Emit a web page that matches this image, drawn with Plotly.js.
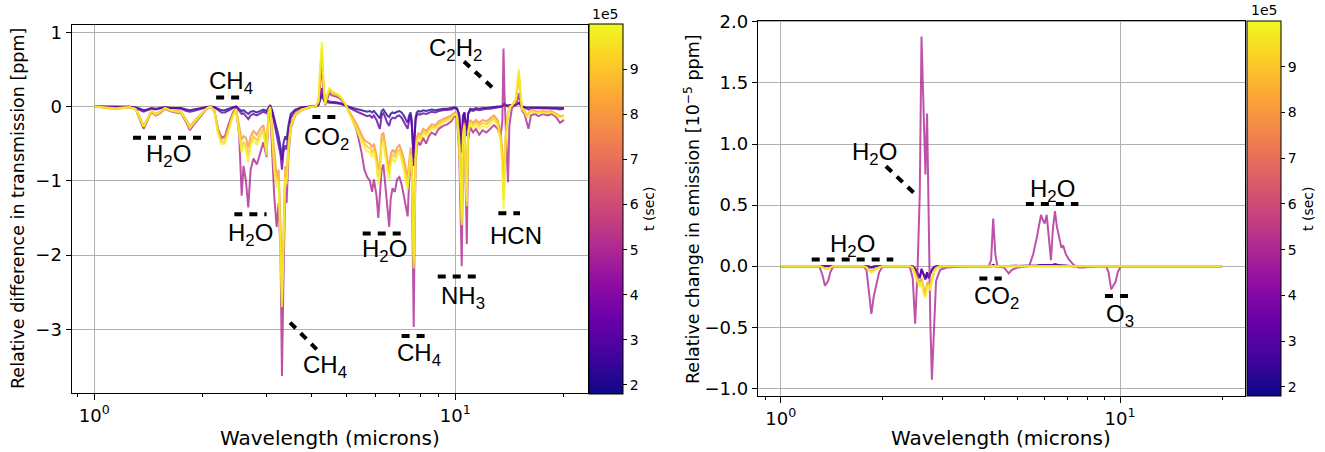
<!DOCTYPE html>
<html><head><meta charset="utf-8">
<script src="https://cdn.plot.ly/plotly-3.0.1.min.js"></script>
<style>html,body{margin:0;padding:0;background:#fff;} #chart{width:1325px;height:452px;}</style>
</head><body><div id="chart"></div>
<script>
// time (sec) of each curve, shared by both panels
const tValues = [2.2e5, 3.3e5, 5.0e5, 7.9e5, 8.9e5, 9.9e5];

// ---- left panel: transmission difference [ppm] ----
const wlTrans = [1.00,1.05,1.10,1.15,1.20,1.25,1.30,1.34,1.37,1.40,
 1.44,1.48,1.52,1.57,1.62,1.68,1.74,1.80,1.84,1.88,
 1.92,1.98,2.04,2.10,2.15,2.20,2.25,2.30,2.35,2.42,
 2.47,2.52,2.56,2.59,2.63,2.67,2.71,2.76,2.82,2.88,
 2.94,3.00,3.04,3.07,3.11,3.15,3.20,3.24,3.28,3.31,
 3.34,3.38,3.41,3.45,3.50,3.60,3.75,3.95,4.10,4.18,
 4.23,4.27,4.31,4.36,4.42,4.48,4.55,4.65,4.75,4.85,
 4.95,5.05,5.20,5.35,5.50,5.60,5.70,5.80,5.88,5.95,
 6.05,6.12,6.18,6.25,6.32,6.40,6.48,6.56,6.62,6.70,
 6.80,6.90,7.00,7.10,7.20,7.30,7.38,7.45,7.52,7.58,
 7.63,7.67,7.71,7.76,7.82,7.90,8.00,8.15,8.30,8.45,
 8.60,8.80,9.00,9.25,9.50,9.75,9.95,10.10,10.25,10.35,
 10.42,10.50,10.60,10.70,10.76,10.85,11.00,11.20,11.40,11.65,
 11.90,12.20,12.50,12.80,13.10,13.35,13.50,13.60,13.68,13.78,
 13.90,14.00,14.12,14.35,14.70,14.90,15.00,15.12,15.30,15.55,
 15.80,15.95,16.20,16.60,17.00,17.50,18.00,18.50,19.00,19.50,
 20.00];
const transDark = [0,0,0,-0.01,0,0,-0.01,-0.03,-0.05,-0.04,
 -0.02,-0.03,-0.02,-0.01,-0.02,-0.02,-0.02,-0.04,-0.05,-0.04,
 -0.03,-0.02,-0.01,0,-0.01,-0.03,-0.05,-0.05,-0.03,-0.01,
 0,-0.03,-0.06,-0.05,-0.08,-0.10,-0.07,-0.06,-0.08,-0.06,
 -0.04,-0.06,-0.01,0.02,-0.05,-0.15,-0.30,-0.40,-0.55,-0.72,
 -0.50,-0.40,-0.45,-0.25,-0.10,-0.04,-0.01,0,0,0.02,
 0.10,0.16,0.10,0.05,0.06,0.05,0.05,0.05,0.04,0.03,
 0.02,0.00,-0.02,-0.04,-0.05,-0.06,-0.07,-0.06,-0.08,-0.06,
 -0.10,-0.14,-0.16,-0.06,-0.04,-0.08,-0.12,-0.14,-0.10,-0.08,
 -0.09,-0.07,-0.06,-0.08,-0.12,-0.18,-0.22,-0.12,-0.08,-0.20,
 -0.55,-0.80,-0.45,-0.15,-0.08,-0.06,-0.07,-0.05,-0.06,-0.05,
 -0.04,-0.05,-0.04,-0.03,-0.03,-0.02,-0.01,-0.02,-0.10,-0.45,
 -0.62,-0.15,-0.08,-0.30,-0.40,-0.10,-0.03,-0.04,-0.02,-0.03,
 -0.02,-0.02,-0.01,-0.01,0.00,0.00,0.01,0.03,0.04,0.02,
 0.01,0.01,0.02,0.01,0.02,0.04,0.05,0.03,0.00,-0.01,
 -0.01,-0.02,-0.01,-0.01,-0.01,-0.01,-0.02,-0.01,-0.02,-0.02,
 -0.02];
const transPurple = [0,0,0,-0.01,-0.01,0,-0.02,-0.05,-0.07,-0.05,
 -0.03,-0.04,-0.03,-0.01,-0.02,-0.03,-0.03,-0.06,-0.07,-0.06,
 -0.05,-0.03,-0.01,0,-0.01,-0.05,-0.08,-0.08,-0.05,-0.02,
 0,-0.06,-0.10,-0.09,-0.13,-0.17,-0.12,-0.10,-0.12,-0.09,
 -0.07,-0.09,-0.02,0.01,-0.08,-0.22,-0.38,-0.48,-0.65,-0.85,
 -0.62,-0.52,-0.58,-0.35,-0.15,-0.06,-0.02,0,0,0.03,
 0.15,0.25,0.14,0.06,0.08,0.07,0.06,0.06,0.05,0.04,
 0.02,0.00,-0.04,-0.07,-0.10,-0.12,-0.13,-0.12,-0.15,-0.12,
 -0.18,-0.25,-0.30,-0.12,-0.09,-0.15,-0.22,-0.26,-0.18,-0.15,
 -0.16,-0.13,-0.12,-0.15,-0.20,-0.26,-0.30,-0.18,-0.12,-0.28,
 -0.45,-0.70,-0.40,-0.20,-0.12,-0.10,-0.11,-0.09,-0.10,-0.08,
 -0.07,-0.08,-0.06,-0.05,-0.05,-0.04,-0.02,-0.03,-0.12,-0.35,
 -0.50,-0.12,-0.08,-0.25,-0.32,-0.10,-0.05,-0.06,-0.04,-0.05,
 -0.04,-0.03,-0.03,-0.02,-0.01,-0.01,0.00,0.02,0.03,0.02,
 0.01,0.00,0.02,0.01,0.02,0.04,0.05,0.03,0.00,-0.01,
 -0.03,-0.04,-0.02,-0.02,-0.03,-0.02,-0.03,-0.02,-0.03,-0.04,
 -0.03];
const transPink = [0,-0.01,-0.02,-0.03,-0.02,-0.01,-0.03,-0.18,-0.30,-0.20,
 -0.07,-0.12,-0.09,-0.03,-0.06,-0.08,-0.09,-0.22,-0.32,-0.25,
 -0.20,-0.12,-0.04,0,-0.06,-0.30,-0.42,-0.40,-0.25,-0.08,
 -0.02,-0.40,-1.20,-0.80,-1.00,-1.36,-0.85,-0.70,-0.78,-0.62,
 -0.48,-0.68,-0.10,-0.02,-0.55,-1.20,-1.62,-1.30,-2.00,-3.63,
 -2.40,-1.10,-1.30,-0.65,-0.30,-0.12,-0.05,-0.01,0,0.05,
 0.35,0.55,0.25,0.02,0.10,0.18,0.15,0.14,0.12,0.08,
 0.03,-0.05,-0.18,-0.35,-0.62,-0.85,-0.95,-1.00,-1.15,-0.98,
 -1.20,-1.50,-1.25,-0.85,-0.78,-1.05,-1.30,-1.62,-1.25,-1.10,
 -1.15,-0.98,-0.95,-1.05,-1.20,-1.35,-1.48,-1.00,-0.70,-0.95,
 -2.00,-2.97,-1.80,-0.80,-0.55,-0.48,-0.52,-0.42,-0.50,-0.40,
 -0.35,-0.38,-0.30,-0.26,-0.24,-0.20,-0.12,-0.15,-0.60,-1.60,
 -2.15,-0.50,-0.30,-1.20,-1.85,-0.45,-0.28,-0.35,-0.30,-0.38,
 -0.32,-0.35,-0.30,-0.25,-0.30,-0.40,-0.20,0.78,0.20,-0.30,
 -0.70,-1.02,-0.25,-0.02,0.03,0.10,0.18,0.08,-0.05,-0.10,
 -0.25,-0.30,-0.12,-0.10,-0.13,-0.10,-0.12,-0.10,-0.14,-0.22,
 -0.18];
const transOrange = [0,-0.01,-0.02,-0.02,-0.01,-0.01,-0.03,-0.15,-0.26,-0.17,
 -0.06,-0.10,-0.07,-0.02,-0.05,-0.06,-0.07,-0.18,-0.27,-0.21,
 -0.16,-0.10,-0.03,0,-0.05,-0.30,-0.44,-0.42,-0.28,-0.10,
 -0.03,-0.25,-0.45,-0.40,-0.42,-0.55,-0.40,-0.33,-0.38,-0.30,
 -0.25,-0.52,-0.05,0.00,-0.30,-0.65,-0.95,-0.85,-1.60,-2.50,
 -1.70,-0.80,-0.90,-0.50,-0.25,-0.10,-0.04,-0.01,0,0.06,
 0.45,0.70,0.32,0.04,0.14,0.22,0.18,0.16,0.14,0.10,
 0.04,-0.04,-0.15,-0.25,-0.38,-0.45,-0.48,-0.50,-0.55,-0.50,
 -0.65,-0.85,-0.80,-0.38,-0.35,-0.55,-0.70,-0.85,-0.65,-0.58,
 -0.62,-0.55,-0.52,-0.60,-0.70,-0.85,-0.95,-0.75,-0.55,-0.80,
 -1.60,-2.00,-1.40,-0.60,-0.42,-0.36,-0.38,-0.30,-0.33,-0.28,
 -0.24,-0.25,-0.20,-0.17,-0.15,-0.12,-0.08,-0.10,-0.40,-1.10,
 -1.50,-0.35,-0.22,-0.85,-1.20,-0.32,-0.18,-0.22,-0.18,-0.22,
 -0.18,-0.20,-0.16,-0.12,-0.18,-0.35,-0.60,-1.10,-0.90,-0.40,
 -0.20,-0.08,0.00,0.02,0.08,0.30,0.42,0.20,-0.02,-0.05,
 -0.12,-0.10,-0.05,-0.06,-0.07,-0.06,-0.07,-0.06,-0.09,-0.13,
 -0.12];
const transGold = [0,-0.01,-0.03,-0.03,-0.02,-0.01,-0.03,-0.16,-0.27,-0.18,
 -0.06,-0.10,-0.07,-0.02,-0.05,-0.06,-0.07,-0.19,-0.28,-0.22,
 -0.17,-0.10,-0.03,0,-0.05,-0.34,-0.48,-0.47,-0.32,-0.12,
 -0.04,-0.30,-0.55,-0.48,-0.52,-0.66,-0.48,-0.40,-0.46,-0.37,
 -0.30,-0.60,-0.06,-0.01,-0.38,-0.75,-1.02,-0.95,-1.80,-2.62,
 -1.85,-0.88,-0.98,-0.55,-0.27,-0.11,-0.04,-0.01,0,0.07,
 0.52,0.78,0.35,0.03,0.15,0.24,0.20,0.17,0.15,0.10,
 0.04,-0.05,-0.17,-0.29,-0.42,-0.50,-0.54,-0.56,-0.62,-0.56,
 -0.72,-0.95,-0.88,-0.45,-0.42,-0.62,-0.78,-0.92,-0.72,-0.64,
 -0.68,-0.60,-0.58,-0.66,-0.78,-0.95,-1.05,-0.82,-0.60,-0.88,
 -1.75,-2.10,-1.50,-0.66,-0.46,-0.40,-0.42,-0.34,-0.37,-0.31,
 -0.27,-0.28,-0.23,-0.20,-0.17,-0.14,-0.09,-0.12,-0.45,-1.20,
 -1.55,-0.38,-0.24,-0.95,-1.28,-0.35,-0.20,-0.25,-0.21,-0.26,
 -0.22,-0.24,-0.20,-0.15,-0.22,-0.42,-0.70,-1.25,-1.00,-0.45,
 -0.22,-0.10,-0.01,0.02,0.09,0.35,0.47,0.22,-0.03,-0.06,
 -0.13,-0.11,-0.06,-0.07,-0.08,-0.07,-0.08,-0.07,-0.10,-0.14,
 -0.12];
const transYellow = [0,-0.01,-0.02,-0.03,-0.02,-0.01,-0.03,-0.17,-0.27,-0.18,
 -0.06,-0.11,-0.08,-0.02,-0.05,-0.07,-0.08,-0.20,-0.29,-0.23,
 -0.18,-0.11,-0.03,0,-0.06,-0.36,-0.51,-0.50,-0.34,-0.13,
 -0.04,-0.35,-0.62,-0.52,-0.58,-0.75,-0.53,-0.45,-0.52,-0.42,
 -0.34,-0.66,-0.07,-0.01,-0.45,-0.85,-1.10,-1.00,-2.00,-2.70,
 -1.95,-0.95,-1.05,-0.58,-0.28,-0.12,-0.05,-0.01,0,0.08,
 0.60,0.87,0.38,0.03,0.16,0.26,0.21,0.18,0.16,0.11,
 0.04,-0.06,-0.20,-0.32,-0.47,-0.55,-0.60,-0.62,-0.68,-0.60,
 -0.80,-1.05,-0.95,-0.52,-0.48,-0.70,-0.85,-0.98,-0.78,-0.70,
 -0.75,-0.66,-0.62,-0.72,-0.85,-1.02,-1.12,-0.88,-0.65,-0.95,
 -1.90,-2.18,-1.60,-0.72,-0.50,-0.43,-0.45,-0.37,-0.40,-0.34,
 -0.30,-0.31,-0.26,-0.22,-0.19,-0.16,-0.10,-0.13,-0.50,-1.30,
 -1.60,-0.40,-0.26,-1.05,-1.34,-0.38,-0.22,-0.28,-0.24,-0.30,
 -0.26,-0.28,-0.24,-0.18,-0.25,-0.48,-0.80,-1.38,-1.10,-0.50,
 -0.25,-0.10,-0.02,0.01,0.10,0.40,0.50,0.25,-0.04,-0.07,
 -0.15,-0.12,-0.07,-0.08,-0.09,-0.08,-0.09,-0.08,-0.11,-0.15,
 -0.13];

// ---- right panel: emission change [1e-5 ppm] ----
const wlEmis = [1.00,1.30,1.33,1.35,1.38,1.40,1.43,1.75,1.79,1.82,
 1.85,1.88,1.91,1.95,2.00,2.40,2.45,2.49,2.53,2.57,
 2.60,2.64,2.67,2.70,2.73,2.76,2.79,2.83,2.87,2.95,
 3.10,3.50,4.10,4.17,4.23,4.29,4.35,4.55,4.70,4.80,
 5.00,5.40,5.55,5.70,5.85,5.92,6.00,6.08,6.18,6.26,
 6.34,6.43,6.52,6.62,6.72,6.80,6.92,7.05,7.30,7.55,
 7.80,8.50,9.10,9.25,9.42,9.55,9.70,9.85,10.05,20.00];
const emisDark = [0,0,0,0,0,0,0,0,0,0,
 -0.01,0,0,0,0,0,0,-0.02,-0.06,-0.10,
 -0.02,-0.08,-0.11,-0.05,-0.10,-0.06,-0.03,-0.01,0,0,
 0,0,0,0,0.01,0,0,0,0,0,
 0,0,0,0.005,0.01,0.01,0.01,0.01,0.008,0.005,
 0.01,0.015,0.01,0.008,0.005,0.005,0.003,0,0,0,
 0,0,0,0,0,0,0,0,0,0];
const emisPurple = [0,0,0,0,0,0,0,0,0,-0.01,
 -0.01,-0.01,0,0,0,0,0,-0.02,-0.05,-0.09,
 -0.03,-0.07,-0.10,-0.05,-0.09,-0.06,-0.03,-0.01,0,0,
 0,0,0,0,0.01,0,0,0,0,0,
 0,0,0,0.005,0.01,0.01,0.01,0.012,0.01,0.005,
 0.01,0.015,0.01,0.008,0.005,0.005,0.003,0,0,0,
 0,0,0,0,0,0,0,0,0,0];
const emisPink = [0,0,-0.08,-0.16,-0.12,-0.05,0,0,-0.03,-0.20,
 -0.39,-0.25,-0.17,-0.05,0,0,-0.10,-0.47,-0.05,0.60,
 1.88,1.10,0.75,1.25,0.20,-0.45,-0.93,-0.45,-0.12,-0.03,
 -0.01,0,0,0.05,0.39,0.10,0,-0.01,-0.06,-0.03,
 -0.01,0,0.10,0.25,0.42,0.38,0.35,0.42,0.20,0.05,
 0.30,0.45,0.32,0.22,0.15,0.17,0.10,0.06,0.01,-0.01,
 -0.01,0,0,-0.05,-0.19,-0.16,-0.13,-0.05,0,0];
const emisOrange = [0,0,-0.01,-0.02,-0.02,-0.01,0,0,-0.01,-0.03,
 -0.04,-0.03,-0.02,-0.01,0,0,-0.01,-0.06,-0.10,-0.13,
 -0.10,-0.18,-0.22,-0.14,-0.13,-0.17,-0.10,-0.04,-0.01,0,
 0,0,0,0,0,0,0,0,0,0,
 0,0,0,0,0,0,0,0,0,0,
 0,0,0,0,0,0,0,0,0,0,
 0,0,0,0,0,0,0,0,0,0];
const emisGold = [0,0,-0.01,-0.02,-0.02,-0.01,0,0,-0.01,-0.03,
 -0.05,-0.04,-0.02,-0.01,0,0,-0.01,-0.07,-0.12,-0.15,
 -0.12,-0.21,-0.24,-0.16,-0.15,-0.19,-0.11,-0.05,-0.02,0,
 0,0,0,0,0,0,0,0,0,0,
 0,0,0,0,0,0,0,0,0,0,
 0,0,0,0,0,0,0,0,0,0,
 0,0,0,0,0,0,0,0,0,0];
const emisYellow = [0,0,-0.01,-0.02,-0.02,-0.01,0,0,-0.01,-0.04,
 -0.05,-0.04,-0.02,-0.01,0,0,-0.01,-0.08,-0.13,-0.17,
 -0.13,-0.23,-0.26,-0.17,-0.16,-0.20,-0.12,-0.05,-0.02,0,
 0,0,0,0,0,0,0,0,0,0,
 0,0,0,0,0,0,0,0,0,0,
 0,0,0,0,0,0,0,0,0,0,
 0,0,0,0,0,0,0,0,0,0];

// molecule labels: text, wavelength, value
const transLabelText = ['H<sub>2</sub>O','CH<sub>4</sub>','H<sub>2</sub>O','CH<sub>4</sub>','CO<sub>2</sub>','H<sub>2</sub>O','CH<sub>4</sub>','NH<sub>3</sub>','HCN','C<sub>2</sub>H<sub>2</sub>'];
const transLabelX = [1.603, 2.387, 2.70, 4.36, 4.40, 6.36, 7.93, 10.52, 14.7, 10.03];
const transLabelY = [-0.665, 0.32, -1.72, -3.50, -0.43, -1.945, -3.34, -2.57, -1.733, 0.762];
const transMarkX = [[1.28,2.0],[2.175,2.535],[2.443,3.0],[3.486,4.13],[4.018,4.664],[5.54,7.07],[7.10,8.24],[8.94,11.47],[13.16,15.11],[10.57,12.66]];
const transMarkY = [[-0.42,-0.42],[0.12,0.12],[-1.45,-1.45],[-2.91,-3.27],[-0.14,-0.14],[-1.71,-1.71],[-3.09,-3.09],[-2.29,-2.29],[-1.437,-1.437],[0.606,0.256]];

const emisLabelText = ['H<sub>2</sub>O','H<sub>2</sub>O','CO<sub>2</sub>','H<sub>2</sub>O','O<sub>3</sub>'];
const emisLabelX = [1.626, 1.884, 4.33, 6.32, 10.0];
const emisLabelY = [0.17, 0.926, -0.256, 0.62, -0.40];
const emisMarkX = [[1.234,2.147],[2.043,2.471],[3.85,4.48],[5.28,7.54],[9.03,10.58]];
const emisMarkY = [[0.055,0.055],[0.818,0.60],[-0.10,-0.10],[0.51,0.51],[-0.245,-0.245]];

const cMin = 1.8e5, cMax = 1.0e6;
const cbTickVals = [2e5,3e5,4e5,5e5,6e5,7e5,8e5,9e5];
const cbTickText = ['2','3','4','5','6','7','8','9'];

// ---------- styling / construction ----------
const W = 1325, H = 452;
const plasma = [[0,'#0d0887'],[0.1,'#41049d'],[0.2,'#6a00a8'],[0.3,'#8f0da4'],[0.4,'#b12a90'],
 [0.5,'#cc4778'],[0.6,'#e16462'],[0.7,'#f2844b'],[0.8,'#fca636'],[0.9,'#fcce25'],[1,'#f0f921']];
function hex2rgb(h){return [parseInt(h.substr(1,2),16),parseInt(h.substr(3,2),16),parseInt(h.substr(5,2),16)];}
function colorAt(t){
  const f = Math.max(0, Math.min(1, (t - cMin) / (cMax - cMin)));
  for (let i = 0; i < plasma.length - 1; i++) {
    const a = plasma[i], b = plasma[i+1];
    if (f >= a[0] && f <= b[0]) {
      const u = (f - a[0]) / (b[0] - a[0]);
      const ca = hex2rgb(a[1]), cb = hex2rgb(b[1]);
      const c = ca.map((v, k) => Math.round(v + (cb[k] - v) * u));
      return 'rgb(' + c.join(',') + ')';
    }
  }
  return plasma[plasma.length-1][1];
}

const transSeries = [transDark, transPurple, transPink, transOrange, transGold, transYellow];
const emisSeries = [emisDark, emisPurple, emisPink, emisOrange, emisGold, emisYellow];
const traces = [];
transSeries.forEach((ys, i) => traces.push({
  type:'scatter', mode:'lines', x: wlTrans, y: ys, xaxis:'x', yaxis:'y',
  line:{color: colorAt(tValues[i]), width:2}, opacity:0.8, showlegend:false, hoverinfo:'skip'
}));
emisSeries.forEach((ys, i) => traces.push({
  type:'scatter', mode:'lines', x: wlEmis, y: ys, xaxis:'x2', yaxis:'y2',
  line:{color: colorAt(tValues[i]), width:2}, opacity:0.8, showlegend:false, hoverinfo:'skip'
}));
const dashStyle = {color:'#000', width:4, dash:'8px,7px'};
transMarkX.forEach((xs, i) => traces.push({type:'scatter', mode:'lines', x: xs, y: transMarkY[i],
  xaxis:'x', yaxis:'y', line: dashStyle, showlegend:false, hoverinfo:'skip'}));
emisMarkX.forEach((xs, i) => traces.push({type:'scatter', mode:'lines', x: xs, y: emisMarkY[i],
  xaxis:'x2', yaxis:'y2', line: dashStyle, showlegend:false, hoverinfo:'skip'}));
// colorbar carriers (no visible marks)
traces.push({type:'scatter', mode:'markers', x: tValues.map(()=>null), y: tValues.map(()=>null),
  xaxis:'x', yaxis:'y', marker:{color: tValues, coloraxis:'coloraxis'}, showlegend:false, hoverinfo:'skip'});
traces.push({type:'scatter', mode:'markers', x: tValues.map(()=>null), y: tValues.map(()=>null),
  xaxis:'x2', yaxis:'y2', marker:{color: tValues, coloraxis:'coloraxis2'}, showlegend:false, hoverinfo:'skip'});

const tickFont = {family:'DejaVu Sans, sans-serif', size:18, color:'#000'};
const minorVals = [0.9,2,3,4,5,6,7,8,9,20];
function xAxis(domain, range, anchor){
  return {type:'log', domain, range, anchor, tickvals:[1,10], ticktext:['10<sup>0</sup>','10<sup>1</sup>'],
    ticks:'outside', ticklen:6, tickwidth:1, tickcolor:'#000', showline:true, mirror:true, linecolor:'#000', linewidth:1,
    showgrid:true, gridcolor:'#b0b0b0', gridwidth:1, zeroline:false, tickfont:tickFont,
    minor:{tickvals:minorVals, ticks:'outside', ticklen:3, tickcolor:'#000', showgrid:false}};
}
function yAxis(domain, range, anchor, tickvals, fmt){
  return {domain, range, anchor, tickvals, tickformat:fmt, ticks:'outside', ticklen:5, tickwidth:1, tickcolor:'#000',
    showline:true, mirror:true, linecolor:'#000', linewidth:1, showgrid:true, gridcolor:'#b0b0b0', gridwidth:1,
    zeroline:false, tickfont:tickFont};
}
function colorbar(xpx, ytop, ybot){
  return {x: xpx/W, xanchor:'left', y: 1 - ytop/H, yanchor:'top', len:(ybot-ytop)/H, lenmode:'fraction',
    thickness:34, thicknessmode:'pixels', xpad:0, ypad:0, outlinewidth:1, outlinecolor:'#000',
    ticks:'outside', ticklen:4, tickcolor:'#000', tickvals: cbTickVals, ticktext: cbTickText,
    tickfont:{family:'DejaVu Sans, sans-serif', size:14, color:'#000'}};
}

const annots = [];
const labelFont = {family:'Liberation Sans, Arial, sans-serif', size:24, color:'#000'};
transLabelText.forEach((t, i) => annots.push({xref:'x', yref:'y', x: Math.log10(transLabelX[i]), y: transLabelY[i],
  xanchor:'center', yanchor:'middle', text:t, showarrow:false, font:labelFont}));
emisLabelText.forEach((t, i) => annots.push({xref:'x2', yref:'y2', x: Math.log10(emisLabelX[i]), y: emisLabelY[i],
  xanchor:'center', yanchor:'middle', text:t, showarrow:false, font:labelFont}));
function paperText(xpx, ypx, text, font, angle){
  return {xref:'paper', yref:'paper', x:xpx/W, y:1-ypx/H, xanchor:'center', yanchor:'middle',
    text, showarrow:false, font, textangle: angle || 0};
}
const axFont = {family:'DejaVu Sans, sans-serif', size:20, color:'#000'};
const yFont = {family:'DejaVu Sans, sans-serif', size:17.5, color:'#000'};
const smallFont = {family:'DejaVu Sans, sans-serif', size:14, color:'#000'};
annots.push(paperText(329.5, 438, 'Wavelength (microns)', axFont));
annots.push(paperText(1001.3, 438, 'Wavelength (microns)', axFont));
annots.push(paperText(18, 209, 'Relative difference in transmission [ppm]', yFont, -90));
annots.push(paperText(692, 209, 'Relative change in emission [10<sup>−5</sup> ppm]', yFont, -90));
annots.push(paperText(605, 14, '1e5', smallFont));
annots.push(paperText(1264, 10, '1e5', smallFont));
annots.push(paperText(649, 209, 't (sec)', smallFont, -90));
annots.push(paperText(1308, 209, 't (sec)', smallFont, -90));

const layout = {
  width:W, height:H, margin:{l:0,r:0,t:0,b:0}, paper_bgcolor:'#fff', plot_bgcolor:'#fff', showlegend:false,
  font:{family:'DejaVu Sans, sans-serif', color:'#000'},
  xaxis: xAxis([71.5/W, 587.5/W], [-0.0632, 1.3662], 'y'),
  yaxis: yAxis([1-393.3/H, 1-25/H], [-3.862, 1.098], 'x', [-3,-2,-1,0,1], ''),
  xaxis2: xAxis([757.7/W, 1245/W], [-0.0678, 1.3684], 'y2'),
  yaxis2: yAxis([1-396/H, 1-20.7/H], [-1.063, 2.01], 'x2', [-1,-0.5,0,0.5,1,1.5,2], '.1f'),
  coloraxis:{colorscale:plasma, cmin:cMin, cmax:cMax, colorbar: colorbar(589, 24, 394)},
  coloraxis2:{colorscale:plasma, cmin:cMin, cmax:cMax, colorbar: colorbar(1247, 21, 396)},
  annotations: annots
};
Plotly.newPlot('chart', traces, layout, {displayModeBar:false, staticPlot:true});
</script>
</body></html>
